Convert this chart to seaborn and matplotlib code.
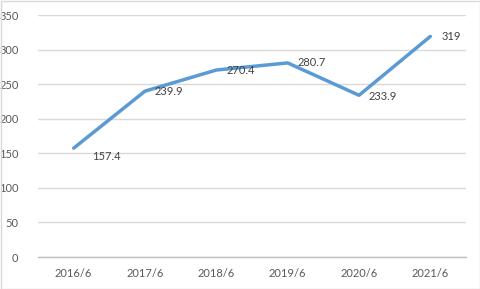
import matplotlib
matplotlib.use("Agg")
import matplotlib.pyplot as plt
import seaborn as sns
import pandas as pd
from matplotlib.patches import Rectangle

categories = ["2016/6", "2017/6", "2018/6", "2019/6", "2020/6", "2021/6"]
values = [157.4, 239.9, 270.4, 280.7, 233.9, 319]
labels = ["157.4", "239.9", "270.4", "280.7", "233.9", "319"]

sns.set_theme(style="white")
plt.rcParams['font.family'] = ['Lato', 'DejaVu Sans']

df = pd.DataFrame({"cat": categories, "val": values})
df["x"] = range(len(categories))

fig = plt.figure(figsize=(4.81, 2.89), dpi=100)
ax = fig.add_axes([38/481, 1 - 257/289, (466-38)/481, (257-15)/289])

sns.lineplot(data=df, x="x", y="val", ax=ax, color="#5B9BD5", linewidth=2.5, sort=False)

ax.set_xlim(-0.5, len(categories) - 0.5)
ax.set_ylim(0, 350)
ax.set_yticks(range(0, 351, 50))
ax.set_xticks(range(len(categories)))
ax.set_xticklabels(categories)
ax.set_xlabel("")
ax.set_ylabel("")
ax.grid(axis="y", color="#D9D9D9", linewidth=1)
ax.set_axisbelow(True)
for s in ["top", "right", "left"]:
    ax.spines[s].set_visible(False)
ax.spines["bottom"].set_color("#BFBFBF")
ax.spines["bottom"].set_linewidth(1)
ax.tick_params(axis="x", length=0, labelsize=8, colors="#595959", pad=8)
ax.tick_params(axis="y", length=0, labelsize=8, colors="#595959", pad=14)
# category boundary ticks
ax.set_xticks([i - 0.5 for i in range(len(categories) + 1)], minor=True)
ax.tick_params(axis="x", which="minor", length=5, color="#BFBFBF", width=1)

offsets = [(13, -6), (7, 0), (7, 0), (7, 0), (7, -1), (8, 0)]
for i, (v, lab) in enumerate(zip(values, labels)):
    ax.annotate(lab, (i, v), xytext=offsets[i], textcoords="offset points",
                ha="left", va="center", fontsize=8, color="#404040")

fig.patches.append(Rectangle((0.5/481, 0.5/289), 1 - 1/481, 1 - 1/289, transform=fig.transFigure,
                             fill=False, edgecolor="#D9D9D9", linewidth=1))
fig.savefig("out.png", dpi=100)
